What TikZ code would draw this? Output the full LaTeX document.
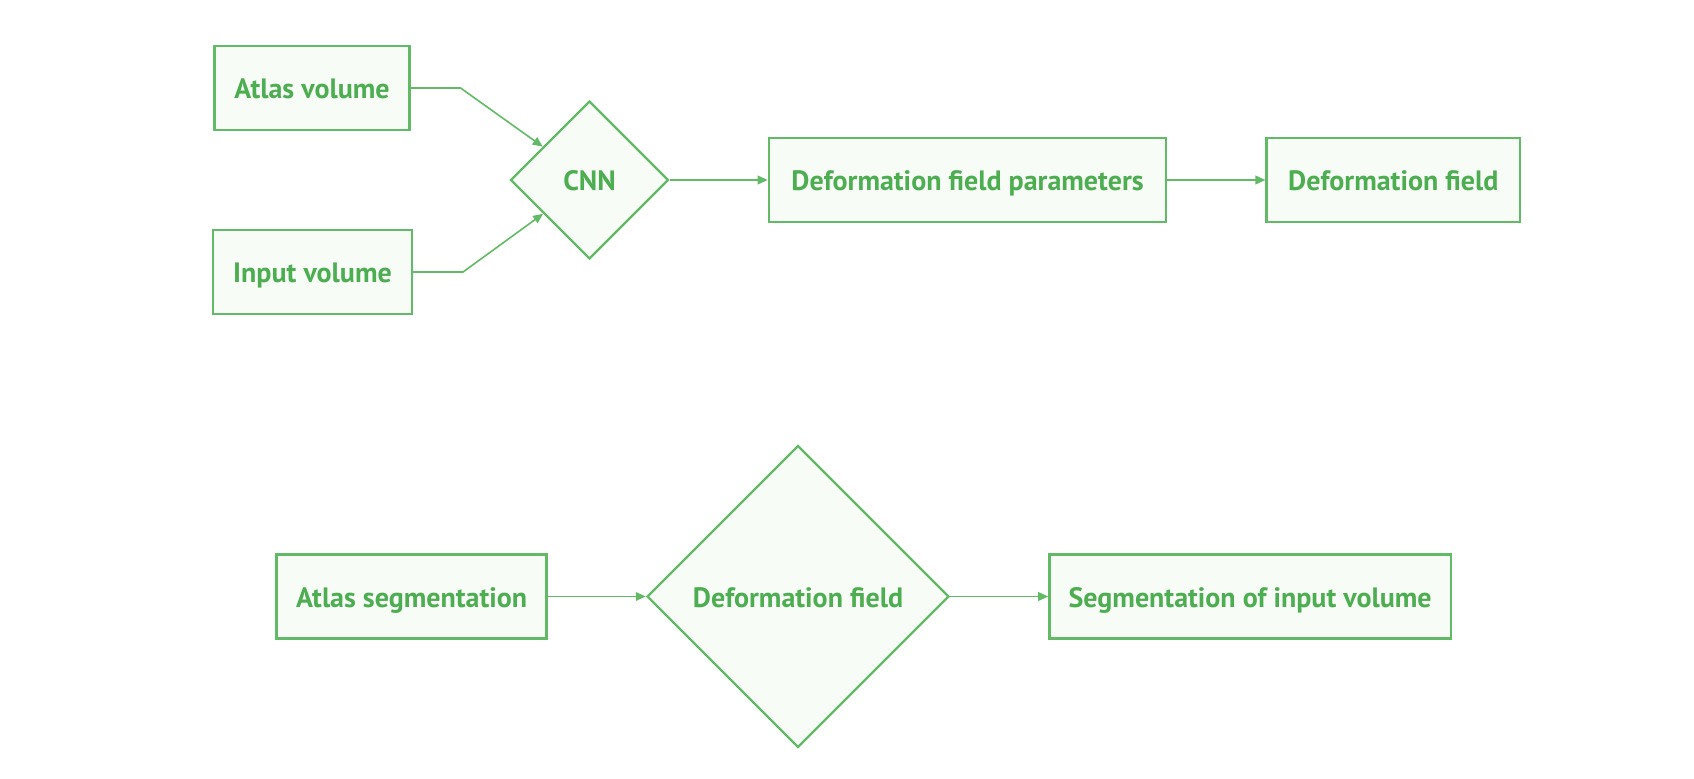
\documentclass[tikz,border=0pt]{standalone}
\usepackage{fontspec}
\setmainfont{PT Sans}
\usepackage{tikz}
\usetikzlibrary{arrows.meta,positioning,shapes.geometric}
\definecolor{LeafGreen}{HTML}{62BA66}
\definecolor{InkGreen}{HTML}{4DAE51}
\definecolor{MintFill}{HTML}{F7FCF7}
\begin{document}
\begin{tikzpicture}[x=0.75pt, y=-0.75pt, font=\fontsize{21}{25}\selectfont\bfseries, >={Triangle[length=7.5pt,width=6.5pt]}, node distance=73.5pt]
\tikzset{b/.style={draw=LeafGreen, line width=1.8pt, fill=MintFill, text=InkGreen, inner sep=0pt, minimum height=63pt, text height=19.5pt, text depth=3.5pt}, dia/.style={b, diamond, minimum width=#1, minimum height=#1}, link/.style={->, draw=LeafGreen, line width=1.2pt}}
\useasboundingbox (0,0) rectangle (1694,778);
% registration row
\node[dia=118.5pt] (cnn) at (589.5,180) {CNN};
\node[b, minimum width=146pt] (atlas) at (312,88) {Atlas volume};
\node[b, minimum width=149pt] (input) at (312.5,272) {Input volume};
\node[b, minimum width=298pt, right=of cnn] (dfp) {Deformation field parameters};
\node[b, minimum width=190pt, right=of dfp] (df) {Deformation field};
% warping row
\node[dia=226.5pt] (dfd) at (798,596.5) {Deformation field};
\node[b, minimum width=202.5pt, left=of dfd] (aseg) {Atlas segmentation};
\node[b, minimum width=301pt, right=of dfd] (segin) {Segmentation of input volume};
\foreach \s in {atlas,input} \draw[link] (\s.east) -- ++(50,0) -- (cnn);
\foreach \a/\b in {cnn/dfp,dfp/df,aseg/dfd,dfd/segin} \draw[link] (\a)--(\b);
\end{tikzpicture}
\end{document}
